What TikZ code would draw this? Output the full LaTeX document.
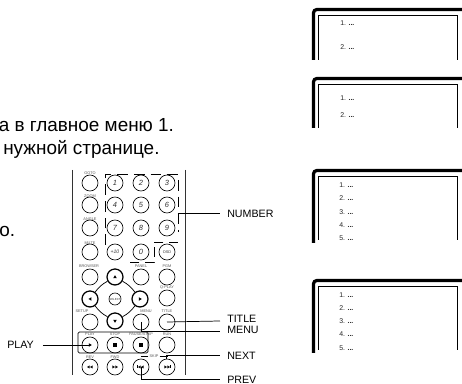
\documentclass[tikz,border=0pt]{standalone}
\usepackage{fontspec}
\setmainfont{Liberation Sans}
\newcommand{\scrbox}[3]{% top, bottom, name
  \draw[outerframe] (313.5,#2) -- (313.5,#1+3) [rounded corners=2.5] -- (313.5,#1) -- (464,#1);
  \draw[innerframe] (318.5,#2-#3) -- (318.5,#1+6) -- (457.5,#1+6) -- (457.5,#2-#3);
}
\newcommand{\iconl}[1]{\fill (#1) ++(-1.5,0) -- ++(3,-1.8) -- ++(0,3.6) -- cycle;}
\newcommand{\iconr}[1]{\fill (#1) ++(1.8,0) -- ++(-3,-1.8) -- ++(0,3.6) -- cycle;}
\newcommand{\iconu}[1]{\fill (#1) ++(0,-1.8) -- ++(-1.8,3) -- ++(3.6,0) -- cycle;}
\newcommand{\icond}[1]{\fill (#1) ++(0,1.8) -- ++(-1.8,-3) -- ++(3.6,0) -- cycle;}
\newcommand{\icons}[1]{\fill (#1) ++(-2.2,-2.2) rectangle ++(4.4,4.4);}
\begin{document}
\begin{tikzpicture}[x=.75pt,y=-.75pt,
  outerframe/.style={line width=2.4pt},
  innerframe/.style={line width=.8pt},
  item/.style={inner sep=0pt,anchor=west,font=\fontsize{5.2}{6}\selectfont,text=black!85},
  btn/.style={circle,draw,line width=.5pt,minimum size=12pt,inner sep=0pt,font=\fontsize{5.6}{6}\selectfont\itshape,text=black!80},
  hbtn/.style={btn,line width=.95pt},
  smallcap/.style={inner sep=0pt,font=\fontsize{2.9}{3}\selectfont,text=black!65},
  body/.style={inner sep=0pt,anchor=base west,font=\fontsize{14.2}{16}\selectfont},
  lab/.style={inner sep=0pt,anchor=west,font=\fontsize{8}{9}\selectfont},
  wire/.style={line width=.55pt},
  rail/.style={line width=.6pt,black!80}]
\useasboundingbox (0,0) rectangle (462,384);
\fill[white] (0,0) rectangle (462,384);

% body text
\node[body] (t1) at (-1.5,132) {а в главное меню 1.};
\node[body] (t2) at (3,155) {нужной странице.};
\node[body] (t3) at (-1,237) {о.};

% screens
\scrbox{9.5}{60}{0}
\node[item] (a1) at (340,23) {1. \textbf{...}};
\node[item] (a2) at (340,47) {2. \textbf{...}};
\scrbox{78.5}{128}{0}
\node[item] (b1) at (340,98) {1. \textbf{...}};
\node[item] (b2) at (340,115) {2. \textbf{...}};
\scrbox{170.5}{243}{3}
\foreach \n/\y in {1/185,2/198,3/212,4/225,5/238}
  \node[item] (c\n) at (339,\y) {\n. \textbf{...}};
\scrbox{280.5}{353}{3}
\foreach \n/\y in {1/295,2/308,3/321,4/334,5/348}
  \node[item] (d\n) at (339,\y) {\n. \textbf{...}};

% remote rails
\coordinate (railLt) at (72,170); \coordinate (railLb) at (72,375);
\coordinate (railRt) at (185,170); \coordinate (railRb) at (185,375);
\draw[rail] (railLt) -- (railLb);
\draw[rail] (railRt) -- (railRb);

% dashed number group
\draw[wire,dash pattern=on 8pt off 4.5pt] (105,245) -- (105,174) -- (178,174) -- (178,232);
\draw[wire,dash pattern=on 7pt off 4pt] (178,242) -- (154,242) -- (154,262) -- (128,262);

% left column
\node[btn] (goto) at (90,183) {};
\node[btn] (zoom) at (90,205) {};
\node[btn] (angle) at (90,228) {};
\node[btn] (mute) at (90,252) {};
\node[btn] (browser) at (90,277) {};
\node[btn] (setup) at (90,322) {};
% number block
\node[btn] (n1) at (115,183) {1};
\node[btn] (n2) at (141,183) {2};
\node[btn] (n3) at (167,183) {3};
\node[btn] (n4) at (115,205) {4};
\node[btn] (n5) at (141,205) {5};
\node[btn] (n6) at (167,205) {6};
\node[btn] (n7) at (115,228) {7};
\node[btn] (n8) at (141,228) {8};
\node[btn] (n9) at (167,228) {9};
\node[btn,font=\fontsize{3.8}{4}\selectfont\itshape] (n10) at (115,252) {+10};
\node[btn] (n0) at (141,252) {0};
\node[btn,font=\fontsize{2.9}{3}\selectfont] (osd) at (167,252) {OSD};
% others
\node[btn] (panel) at (141,277) {};
\node[btn] (pgm) at (167,277) {};
\node[btn] (qplay) at (167,298) {};
\node[btn] (menu) at (141,322) {};
\node[btn] (title) at (167,322) {};
\node[btn] (run) at (167,345) {};
% arrows pad
\node[hbtn] (up) at (115,277) {};
\node[hbtn] (left) at (90,299) {};
\node[hbtn] (right) at (140,299) {};
\node[hbtn] (down) at (115,321) {};
\node[btn,minimum size=9pt,font=\fontsize{2.2}{3}\selectfont] (select) at (115,299) {SELECT};
\draw[wire] (up) to[bend right=12] (left);
\draw[wire] (up) to[bend left=12] (right);
\draw[wire] (down) to[bend left=12] (left);
\draw[wire] (down) to[bend right=12] (right);
\iconu{up.center} \icond{down.center} \iconl{left.center} \iconr{right.center}
% play row
\draw[wire,rounded corners=1] (78,332) rectangle (148,353);
\node[btn] (play) at (90,345) {};
\node[btn] (stop) at (115,345) {};
\node[btn] (pause) at (141,345) {};
\iconr{play.center} \icons{stop.center} \icons{pause.center}
% bottom row
\node[btn] (rev) at (90,367) {};
\node[btn] (fwd) at (115,367) {};
\node[btn] (prevb) at (141,367) {};
\node[btn] (nextb) at (167,367) {};
\foreach \b/\d in {rev/-1,fwd/1,prevb/-1,nextb/1}{
  \fill (\b.center) ++(3*\d,0) -- ++(-2.6*\d,-1.5) -- ++(0,3) -- cycle;
  \fill (\b.center) -- ++(-2.6*\d,-1.5) -- ++(0,3) -- cycle;
}
\draw[line width=.5pt] (prevb.center) ++(-3.4,-1.5) -- ++(0,3);
\draw[line width=.5pt] (nextb.center) ++(3.4,-1.5) -- ++(0,3);

% button captions
\node[smallcap] (c1) at (90,173) {GOTO};
\node[smallcap] (c2) at (90,196) {ZOOM};
\node[smallcap] (c3) at (90,219) {ANGLE};
\node[smallcap] (c4) at (90,243) {MUTE};
\node[smallcap] (c5) at (89,266) {BROWSER};
\node[smallcap] (c6) at (141,266) {PANEL};
\node[smallcap] (c7) at (167,266) {PGM};
\node[smallcap] (c8) at (167,288) {Q-PLAY};
\node[smallcap] (c9) at (82,311) {SETUP};
\node[smallcap] (c10) at (146,311) {MENU};
\node[smallcap] (c11) at (167,311) {TITLE};
\node[smallcap] (c12) at (90,334) {PLAY};
\node[smallcap] (c13) at (115,334) {STOP};
\node[smallcap] (c14) at (141,334) {PAUSE/STEP};
\node[smallcap] (c15) at (167,334) {RUN};
\node[smallcap] (c16) at (90,357) {REV};
\node[smallcap] (c17) at (115,357) {FWD};
\node[smallcap] (skip) at (154,356) {SKIP};
\draw[line width=.3pt] (skip.west) ++(-1,0) -- ++(-7,0);
\draw[line width=.3pt] (skip.east) ++(1,0) -- ++(8,0);

% labels
\node[lab] (lnumber) at (227,214) {NUMBER};
\node[lab] (ltitle) at (227,319) {TITLE};
\node[lab] (lmenu) at (227,330) {MENU};
\node[lab] (lnext) at (227,356) {NEXT};
\node[lab] (lprev) at (227,380) {PREV};
\node[lab] (lplay) at (7,345) {PLAY};

% connectors
\coordinate (numend) at (178,213);
\coordinate (tte) at (220,321);
\coordinate (mne) at (220,331);
\coordinate (nxe) at (220,355);
\coordinate (pve) at (220,379);
\coordinate (ple) at (43,345);
\draw[wire] (numend) -- (220,213);
\draw[wire] (title.center) -- (tte);
\draw[wire] (menu.center) |- (mne);
\draw[wire] (nextb.north) ++(-1,0) |- (nxe);
\draw[wire] (prevb.center) |- (pve);
\draw[wire] (ple) -- (play.center);
\end{tikzpicture}
\end{document}
